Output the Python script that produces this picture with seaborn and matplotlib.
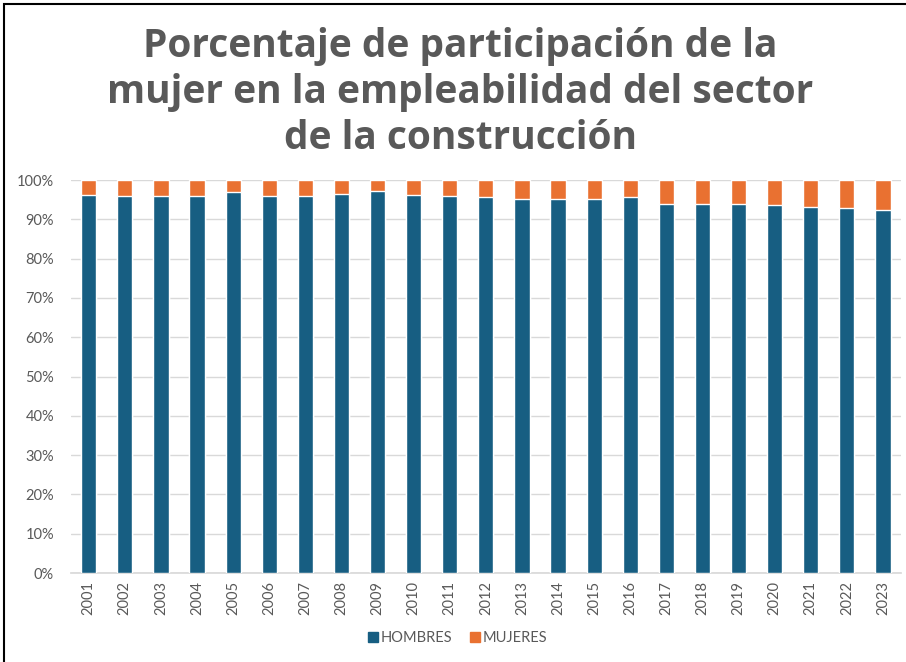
import matplotlib
matplotlib.use("Agg")
import matplotlib.pyplot as plt
import matplotlib.patches as mpatches
import numpy as np
import pandas as pd
import seaborn as sns

years = [str(y) for y in range(2001, 2024)]
hombres = [96.2, 95.9, 95.9, 95.9, 96.9, 95.9, 95.9, 96.5, 97.3, 96.2, 95.9,
           95.6, 95.2, 95.2, 95.2, 95.6, 93.9, 93.9, 93.9, 93.6, 93.2, 92.9, 92.5]
mujeres = [round(100 - h, 1) for h in hombres]
yticks = list(range(0, 101, 10))

blue = "#175e82"
orange = "#e97131"
grey = "#595959"

sns.set_theme(style="white")
plt.rcParams["font.family"] = ["Lato", "DejaVu Sans"]

df = pd.DataFrame({"year": years, "HOMBRES": hombres, "MUJERES": mujeres})
df["total"] = df["HOMBRES"] + df["MUJERES"]

fig = plt.figure(figsize=(9.06, 6.62), dpi=100)
ax = fig.add_axes([0.078, 0.1344, 0.9165, 0.5936])

# stacked: draw total (orange) then hombres (blue) on top
sns.barplot(data=df, x="year", y="total", color=orange, width=0.42,
            saturation=1, ax=ax, zorder=2)
sns.barplot(data=df, x="year", y="HOMBRES", color=blue, width=0.42,
            saturation=1, ax=ax, zorder=3)

ax.set_ylim(0, 100)
ax.set_xlim(-0.5, len(years) - 0.5)
ax.set_yticks(yticks)
ax.set_yticklabels([f"{t}%" for t in yticks], color=grey, fontsize=10.5)
ax.tick_params(axis="x", rotation=90, labelsize=10.5, labelcolor=grey, length=0, pad=6)
ax.tick_params(axis="y", length=0, pad=12)
ax.set_xlabel("")
ax.set_ylabel("")
ax.yaxis.grid(True, color="#d9d9d9", linewidth=1, zorder=0)
ax.set_axisbelow(True)
for s in ["top", "right", "left"]:
    ax.spines[s].set_visible(False)
ax.spines["bottom"].set_color("#d9d9d9")

fig.text(0.508, 0.762,
         "Porcentaje de participación de la\nmujer en la empleabilidad del sector\nde la construcción",
         ha="center", va="bottom", fontsize=28, fontweight="bold", color=grey,
         linespacing=1.22, family=["Open Sans", "DejaVu Sans"])

handles = [mpatches.Patch(color=blue, label="HOMBRES"),
           mpatches.Patch(color=orange, label="MUJERES")]
fig.legend(handles=handles, loc="center", bbox_to_anchor=(0.505, 0.036), ncol=2,
           frameon=False, fontsize=10.5, labelcolor=grey, handlelength=0.7,
           handleheight=0.7, handletextpad=0.2, columnspacing=1.2)

fig.patches.append(mpatches.Rectangle((0.004, -0.01), 1.1, 1.004, transform=fig.transFigure,
                                      fill=False, edgecolor="black", linewidth=1.5))

fig.savefig("out.png", dpi=100)
